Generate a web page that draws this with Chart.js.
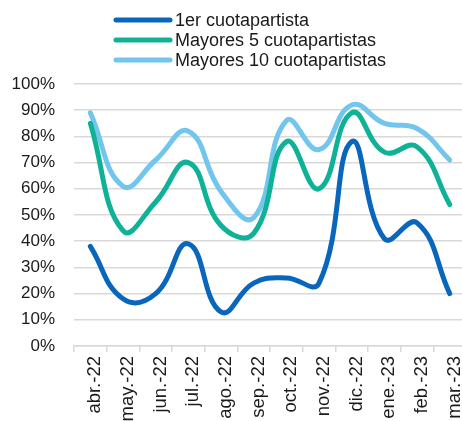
<!DOCTYPE html>
<html>
<head>
<meta charset="utf-8">
<script src="https://cdn.jsdelivr.net/npm/chart.js@4.4.1/dist/chart.umd.min.js"></script>
<style>
  html, body { margin: 0; padding: 0; background: #fff; overflow: hidden; }
  #wrap { width: 476px; height: 421px; }
</style>
</head>
<body>
<div id="wrap"><canvas id="myChart" width="476" height="421"></canvas></div>
<script>
// Months shown on the x axis
const months = ['abr.-22', 'may.-22', 'jun.-22', 'jul.-22', 'ago.-22', 'sep.-22',
                'oct.-22', 'nov.-22', 'dic.-22', 'ene.-23', 'feb.-23', 'mar.-23'];

// Share of the fund held (%)
const primerCuotapartista = [38, 18, 20, 39, 13, 24, 26, 24, 78, 41, 47, 20];
const mayores5 = [85, 44, 55, 70, 46, 43, 78, 60, 89, 74, 76, 54];
const mayores10 = [89, 61, 71, 82, 59, 49, 86, 75, 92, 85, 83, 71];

const seriesLabels = ['1er cuotapartista', 'Mayores 5 cuotapartistas', 'Mayores 10 cuotapartistas'];
const seriesColors = ['#0866BC', '#0FB197', '#72C5EC'];

const fontFamily = '"Liberation Sans", Arial, sans-serif';

// Legend drawn by hand: stacked rows with a short thick line in front
const stackedLegend = {
    id: 'stackedLegend',
    afterDraw(chart) {
        const ctx = chart.ctx;
        ctx.save();
        chart.data.datasets.forEach((ds, i) => {
            const y = 20 + i * 20;
            ctx.strokeStyle = ds.borderColor;
            ctx.lineWidth = 5;
            ctx.lineCap = 'round';
            ctx.beginPath();
            ctx.moveTo(116, y);
            ctx.lineTo(170, y);
            ctx.stroke();
            ctx.fillStyle = '#1a1a1a';
            ctx.font = '18px ' + fontFamily;
            ctx.textBaseline = 'middle';
            ctx.fillText(ds.label, 175, y + 1);
        });
        ctx.restore();
    }
};

const datasets = [primerCuotapartista, mayores5, mayores10].map((values, i) => ({
    label: seriesLabels[i],
    data: values,
    borderColor: seriesColors[i],
    backgroundColor: seriesColors[i],
    borderWidth: 5,
    tension: 0.45,
    pointRadius: 0,
    borderCapStyle: 'round',
    fill: false
}));

const ctx = document.getElementById('myChart').getContext('2d');
new Chart(ctx, {
    type: 'line',
    data: { labels: months, datasets: datasets },
    options: {
        responsive: false,
        animation: false,
        layout: { padding: { top: 84, right: 2, left: 0, bottom: 0 } },
        plugins: {
            legend: { display: false },
            tooltip: { enabled: false }
        },
        scales: {
            x: {
                offset: true,
                grid: {
                    offset: true,
                    drawOnChartArea: false,
                    drawTicks: true,
                    tickLength: 6,
                    color: '#d9d9d9',
                    lineWidth: 1.5
                },
                border: { color: '#d9d9d9', width: 1.5 },
                ticks: {
                    minRotation: 90,
                    maxRotation: 90,
                    autoSkip: false,
                    padding: 4,
                    labelOffset: 5,
                    color: '#1a1a1a',
                    font: { size: 18.5, family: fontFamily }
                },
                afterFit(scale) { scale.height = 75; }
            },
            y: {
                min: 0,
                max: 100,
                ticks: {
                    stepSize: 10,
                    color: '#1a1a1a',
                    padding: 19,
                    font: { size: 17, family: fontFamily },
                    callback: v => v + '%'
                },
                grid: { color: '#d9d9d9', lineWidth: 1.5, drawTicks: false },
                border: { display: false },
                afterFit(scale) { scale.width = 74; }
            }
        }
    },
    plugins: [stackedLegend]
});
</script>
</body>
</html>
